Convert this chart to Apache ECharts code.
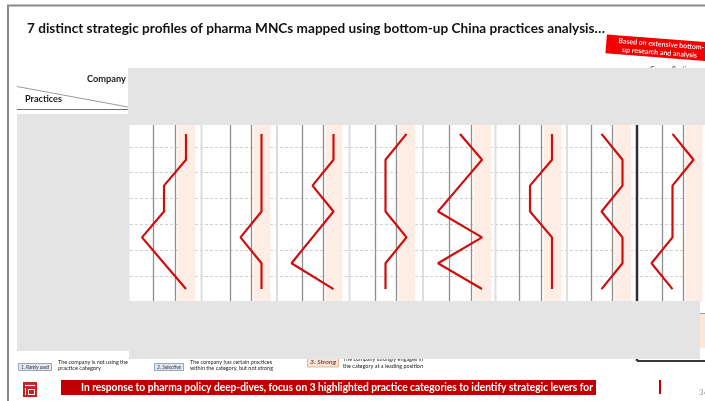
<!DOCTYPE html>
<html>
<head>
<meta charset="utf-8">
<script src="https://cdn.jsdelivr.net/npm/echarts@6/dist/echarts.min.js"></script>
<style>
  html, body { margin: 0; padding: 0; background: #ffffff; }
  #chart { width: 705px; height: 401px; }
</style>
</head>
<body>
<div id="chart"></div>
<script>
// Practice categories (one row each, top to bottom)
const practices = ['Practice A', 'Practice B', 'Practice C', 'Practice D', 'Practice E', 'Practice F', 'Practice G'];

// Engagement level per practice for each company profile (1 = rarely used, 2 = selective, 3 = strong)
const profile1 = [3, 3, 2, 2, 1, 2, 3];
const profile2 = [3, 3, 3, 3, 2, 3, 3];
const profile3 = [3, 3, 2, 3, 2, 1, 3];
const profile4 = [3, 2, 2, 2, 3, 2, 2];
const profile5 = [2, 3, 2, 1, 3, 1, 3];
const profile6 = [3, 3, 2, 2, 3, 3, 3];
const profile7 = [2, 3, 3, 2, 3, 3, 2];
const profile8 = [2, 3, 2, 2, 2, 1, 2];

// Legend levels
const levelNames = ['1. Rarely used', '2. Selective', '3. Strong'];
const levelNotes = [
  ['The company is not using the', 'practice category'],
  ['The company has certain practices', 'within the category, but not strong'],
  ['The company strongly engages in', 'the category at a leading position']
];

const titleText = '7 distinct strategic profiles of pharma MNCs mapped using bottom-up China practices analysis\u2026';
const tagLines = ['Based on extensive bottom-', 'up research and analysis'];
const bannerText = 'In response to pharma policy deep-dives, focus on 3 highlighted practice categories to identify strategic levers for';

const profiles = [profile1, profile2, profile3, profile4, profile5, profile6, profile7, profile8];

// ---- layout ----
const PLOT_TOP = 121, PLOT_H = 181;
// x of the two column dividers inside each company panel
const DIV_A = [153, 230, 302, 375, 449, 519, 591, 662];
const DIV_B = [175, 251, 323, 396, 471, 541, 612, 683];
const PANEL_GAPS = [201.5, 277, 349.5, 423, 495.5, 567];

const FONT = 'Lato, "Open Sans", "Liberation Sans", sans-serif';
const measureCtx = document.createElement('canvas').getContext('2d');
function squeeze(text, font, width) {
  measureCtx.font = font;
  return width / measureCtx.measureText(text).width;
}
function txt(text, x, y, size, width, o) {
  o = o || {};
  const font = (o.style || '') + ' ' + (o.weight || 'normal') + ' ' + size + 'px ' + FONT;
  const align = o.align || 'left';
  return {
    type: 'text', x: x, y: y, z: o.z || 60,
    scaleX: width ? squeeze(text, font, width) : 1,
    style: {
      text: text, font: font, fill: o.fill || '#1a1a1a',
      align: align, verticalAlign: 'middle',
      textAlign: align, textVerticalAlign: 'middle'
    }
  };
}
function rect(x, y, w, h, fill, o) {
  o = o || {};
  return {
    type: 'rect', z: o.z || 50,
    shape: { x: x, y: y, width: w, height: h },
    style: { fill: fill, stroke: o.stroke || null, lineWidth: o.lw || 0 }
  };
}
function line(x1, y1, x2, y2, stroke, lw, z) {
  return {
    type: 'line', z: z || 50,
    shape: { x1: x1, y1: y1, x2: x2, y2: y2 },
    style: { stroke: stroke, lineWidth: lw }
  };
}

// ---- grids / axes / series ----
const grids = [{ left: 130, top: PLOT_TOP, width: 563, height: PLOT_H }];
const xAxes = [{ type: 'value', gridIndex: 0, min: 0, max: 1, show: false }];
const yAxes = [{
  type: 'category', gridIndex: 0, data: practices, inverse: true,
  axisLine: { show: false }, axisTick: { show: false }, axisLabel: { show: false },
  splitLine: { show: true, lineStyle: { color: '#c4c4c4', width: 0.8, type: [3, 2] } }
}];
const series = [];

profiles.forEach(function (p, i) {
  const d = DIV_B[i] - DIV_A[i];
  grids.push({ left: DIV_A[i] - d, top: PLOT_TOP, width: 3 * d, height: PLOT_H });
  xAxes.push({ type: 'value', gridIndex: i + 1, min: 0.5, max: 3.5, show: false });
  yAxes.push({ type: 'category', gridIndex: i + 1, data: practices, inverse: true, show: false });
  series.push({
    type: 'line',
    xAxisIndex: i + 1, yAxisIndex: i + 1,
    data: p.map(function (v, k) { return [v, practices[k]]; }),
    symbol: 'none', z: 5, silent: true,
    lineStyle: { color: '#d00d0d', width: 2.2 },
    markArea: {
      silent: true,
      itemStyle: { color: '#fdede4' },
      data: [[{ xAxis: 2.62 }, { xAxis: 3.42 }]]
    },
    markLine: {
      silent: true, symbol: ['none', 'none'],
      label: { show: false },
      lineStyle: { color: '#8e8e8e', width: 1.3, type: 'solid' },
      data: [{ xAxis: 1.5 }, { xAxis: 2.5 }]
    }
  });
});

// ---- slide furniture ----
const G = [];
// panel separators and the boxed last column
PANEL_GAPS.forEach(function (x) { G.push(line(x, 124, x, 302, '#dedede', 2, 1)); });
G.push(line(637, 124, 637, 361, '#2e2e2e', 2.5, 8));
G.push(line(637, 361, 705, 361, '#3a3a3a', 2, 8));
G.push(rect(700, 313, 5, 35, '#fce6d8', { z: 8 }));
G.push(line(700, 313.5, 705, 313.5, '#9a9a9a', 1, 8));

// frame
G.push(line(7, 5.5, 705, 5.5, '#8a8a8a', 2, 70));
G.push(line(8, 5, 8, 401, '#8a8a8a', 2, 70));

// title and tag
G.push(txt(titleText, 27, 29, 13, 578, { weight: 'bold', fill: '#111' }));
G.push({
  type: 'group', x: 659, y: 48, rotation: -0.078, z: 60,
  children: [
    { type: 'rect', z: 60, shape: { x: -53, y: -9.5, width: 110, height: 19 }, style: { fill: '#f20000' } },
    txt(tagLines[0], 2, -4, 7, 86, { align: 'center', fill: '#ffffff', weight: '600', z: 61 }),
    txt(tagLines[1], 1, 4.5, 7, 75, { align: 'center', fill: '#ffffff', weight: '600', z: 61 })
  ]
});
G.push(txt('Case reflection', 672, 69.5, 7, 44, { align: 'center', fill: '#333', z: 40 }));

// header corner
G.push(txt('Company', 126, 79, 8.5, 39, { align: 'right', weight: 'bold', fill: '#1a1a1a' }));
G.push(txt('Practices', 25, 99, 8.5, 37, { weight: 'bold', fill: '#1a1a1a' }));
G.push(line(17, 86.5, 128, 107, '#808080', 0.8, 55));
G.push(line(17, 109.5, 128, 109.5, '#6e6e6e', 1, 55));

// masked header / row label / footer blocks
G.push(rect(128, 68, 577, 57, '#e4e4e4'));
G.push(rect(17, 114, 112.5, 237, '#e4e4e4'));
G.push(rect(129, 301, 571, 58, '#e4e4e4'));

// legend
const boxes = [
  { x: 18.5, y: 363.5, w: 33, h: 7, fill: '#e3e8f0', stroke: '#8093b3', tx: 58, ty: [362, 368.5], tw: [70, 43] },
  { x: 154.5, y: 363.5, w: 29, h: 7, fill: '#e3e8f0', stroke: '#8093b3', tx: 190, ty: [362, 368.5], tw: [82, 83] },
  { x: 307.5, y: 358.5, w: 31, h: 8.5, fill: '#fbe2d2', stroke: '#e6a47e', tx: 343, ty: [359.5, 366.5], tw: [80, 80] }
];
boxes.forEach(function (b, i) {
  G.push(rect(b.x, b.y, b.w, b.h, b.fill, { stroke: b.stroke, lw: 0.8, z: 45 }));
  G.push(txt(levelNames[i], b.x + b.w / 2, b.y + b.h / 2, 5, b.w - 5, { align: 'center', style: 'italic', fill: '#333', z: 46 }));
  G.push(txt(levelNotes[i][0], b.tx, b.ty[0], 5, b.tw[0], { fill: '#222', z: 40 }));
  G.push(txt(levelNotes[i][1], b.tx, b.ty[1], 5, b.tw[1], { fill: '#222', z: 40 }));
});

// footer: logo, banner, page marks
G.push(rect(23, 382, 14, 15, '#cc1f1f', { z: 60 }));
G.push(line(25, 385.5, 35, 385.5, '#ffffff', 1.2, 61));
G.push(line(25.5, 388, 25.5, 395, '#ffffff', 1, 61));
G.push({ type: 'rect', z: 61, shape: { x: 28.5, y: 389.5, width: 6, height: 5 }, style: { fill: null, stroke: '#ffffff', lineWidth: 1 } });
G.push(rect(61, 380, 535, 15, '#c00000', { z: 60 }));
G.push(txt(bannerText, 337, 387.5, 11, 512, { align: 'center', weight: 'bold', fill: '#ffffff', z: 61 }));
G.push(line(660, 380, 660, 394, '#c00000', 2, 60));
G.push(txt('34', 699, 392, 8, 0, { fill: '#a0a0a0', z: 60 }));

const chart = echarts.init(document.getElementById('chart'), null, { renderer: 'canvas' });
chart.setOption({
  animation: false,
  backgroundColor: '#ffffff',
  grid: grids,
  xAxis: xAxes,
  yAxis: yAxes,
  series: series,
  graphic: { elements: G }
});
</script>
</body>
</html>
